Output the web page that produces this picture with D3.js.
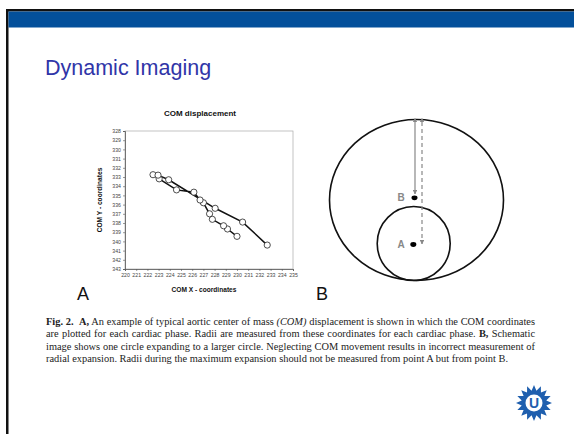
<!DOCTYPE html>
<html>
<head>
<meta charset="utf-8">
<script src="https://cdn.jsdelivr.net/npm/d3@7/dist/d3.min.js"></script>
<style>
  html, body { margin: 0; padding: 0; background: #fff; }
  svg { display: block; }
</style>
</head>
<body>
<div id="slide"></div>
<script>
// --- data ---
const xTickLabels = [220, 221, 222, 223, 224, 225, 226, 227, 228, 229, 230, 231, 232, 233, 234, 235];
const yTickLabels = [328, 329, 330, 331, 332, 333, 334, 335, 336, 337, 338, 339, 340, 341, 342, 343];

// COM coordinates, one per cardiac phase (in drawing order)
const comX = [230.0, 229.15, 228.8, 227.8, 227.55, 227.0, 226.7, 226.15, 224.6, 223.05, 222.5, 222.95, 223.9, 228.05, 230.5, 232.7];
const comY = [339.45, 338.65, 338.3, 337.6, 337.0, 335.8, 335.5, 334.65, 334.4, 333.2, 332.75, 332.8, 333.3, 336.4, 337.9, 340.4];

const captionLines = [
  [["Fig. 2.", "b"], ["  ", "r"], ["A,", "b"], [" An example of typical aortic center of mass ", "r"], ["(COM)", "i"], [" displacement is shown in which the COM coordinates", "r"]],
  [["are plotted for each cardiac phase. Radii are measured from these coordinates for each cardiac phase. ", "r"], ["B,", "b"], [" Schematic", "r"]],
  [["image shows one circle expanding to a larger circle. Neglecting COM movement results in incorrect measurement of", "r"]],
  [["radial expansion. Radii during the maximum expansion should not be measured from point A but from point B.", "r"]]
];

const W = 574, H = 434;
const svg = d3.select('#slide').append('svg')
  .attr('width', W)
  .attr('height', H);

// slide frame
svg.append('rect').attr('x', 0).attr('y', 0).attr('width', W).attr('height', H).attr('fill', '#fff');
svg.append('rect').attr('x', 6).attr('y', 9).attr('width', W - 6).attr('height', 2.5).attr('fill', '#111');
svg.append('rect').attr('x', 6).attr('y', 9).attr('width', 2.5).attr('height', H - 9).attr('fill', '#111');
svg.append('rect').attr('x', 8.5).attr('y', 11.5).attr('width', W - 8.5).attr('height', 16).attr('fill', '#03509b');

svg.append('text')
  .attr('x', 45).attr('y', 75)
  .attr('font-family', 'Liberation Sans, Arial, sans-serif')
  .attr('font-size', 21.5)
  .attr('fill', '#3035a8')
  .text('Dynamic Imaging');

// --- panel A : COM displacement scatter ---
const x = d3.scaleLinear().domain([220, 235]).range([125, 293]);
const y = d3.scaleLinear().domain([328, 343]).range([131, 269]);

const chart = svg.append('g').attr('class', 'chart');

chart.append('rect')
  .attr('x', x(220)).attr('y', y(328))
  .attr('width', x(235) - x(220)).attr('height', y(343) - y(328))
  .attr('fill', 'none').attr('stroke', '#aaa').attr('stroke-width', 0.7);

const xAxis = chart.append('g')
  .attr('transform', `translate(0,${y(343)})`)
  .call(d3.axisBottom(x).tickValues(xTickLabels).tickFormat(d3.format('d')).tickSize(2).tickPadding(2));
const yAxis = chart.append('g')
  .attr('transform', `translate(${x(220)},0)`)
  .call(d3.axisLeft(y).tickValues(yTickLabels).tickFormat(d3.format('d')).tickSize(2).tickPadding(2));

[xAxis, yAxis].forEach(a => {
  a.select('.domain').attr('stroke', '#555').attr('stroke-width', 0.8);
  a.selectAll('.tick line').attr('stroke', '#555').attr('stroke-width', 0.6);
  a.selectAll('.tick text')
    .attr('font-family', 'Liberation Sans, Arial, sans-serif')
    .attr('font-size', 5.2)
    .attr('fill', '#444');
});

const pts = comX.map((v, i) => ({ x: v, y: comY[i] }));

chart.append('path')
  .datum(pts)
  .attr('fill', 'none')
  .attr('stroke', '#111')
  .attr('stroke-width', 1.5)
  .attr('d', d3.line().x(d => x(d.x)).y(d => y(d.y)));

chart.selectAll('circle.pt')
  .data(pts)
  .enter()
  .append('circle')
  .attr('class', 'pt')
  .attr('cx', d => x(d.x))
  .attr('cy', d => y(d.y))
  .attr('r', 3.1)
  .attr('fill', '#fff')
  .attr('stroke', '#222')
  .attr('stroke-width', 0.8);

chart.append('text')
  .attr('x', 200).attr('y', 116)
  .attr('text-anchor', 'middle')
  .attr('font-family', 'Liberation Sans, Arial, sans-serif')
  .attr('font-weight', 'bold')
  .attr('font-size', 8)
  .attr('fill', '#111')
  .text('COM displacement');

chart.append('text')
  .attr('x', 204).attr('y', 292)
  .attr('text-anchor', 'middle')
  .attr('font-family', 'Liberation Sans, Arial, sans-serif')
  .attr('font-weight', 'bold')
  .attr('font-size', 6.6)
  .attr('fill', '#111')
  .text('COM X - coordinates');

chart.append('text')
  .attr('transform', 'translate(102,200) rotate(-90)')
  .attr('text-anchor', 'middle')
  .attr('font-family', 'Liberation Sans, Arial, sans-serif')
  .attr('font-weight', 'bold')
  .attr('font-size', 6.6)
  .attr('fill', '#111')
  .text('COM Y - coordinates');

// --- panel B : schematic ---
const schem = svg.append('g').attr('class', 'schematic');
const defs = svg.append('defs');
['start', 'end'].forEach(k => {
  defs.append('marker')
    .attr('id', 'arr-' + k)
    .attr('viewBox', '0 0 10 10')
    .attr('refX', k === 'end' ? 9 : 1).attr('refY', 5)
    .attr('markerWidth', 4).attr('markerHeight', 4)
    .attr('orient', 'auto-start-reverse')
    .append('path')
    .attr('d', 'M0,0 L10,5 L0,10 Z')
    .attr('fill', '#888');
});

schem.append('ellipse')
  .attr('cx', 416.5).attr('cy', 200).attr('rx', 87).attr('ry', 80.5)
  .attr('fill', 'none').attr('stroke', '#111').attr('stroke-width', 1.6);
schem.append('ellipse')
  .attr('cx', 413.7).attr('cy', 243.5).attr('rx', 36.5).attr('ry', 37)
  .attr('fill', 'none').attr('stroke', '#111').attr('stroke-width', 1.6);

schem.append('line')
  .attr('x1', 415).attr('y1', 122).attr('x2', 415).attr('y2', 194)
  .attr('stroke', '#888').attr('stroke-width', 1.2)
  .attr('marker-start', 'url(#arr-start)').attr('marker-end', 'url(#arr-end)');
schem.append('line')
  .attr('x1', 422).attr('y1', 122).attr('x2', 422).attr('y2', 244)
  .attr('stroke', '#888').attr('stroke-width', 1.2).attr('stroke-dasharray', '4,3')
  .attr('marker-start', 'url(#arr-start)').attr('marker-end', 'url(#arr-end)');

schem.append('ellipse').attr('cx', 414.5).attr('cy', 197.8).attr('rx', 3).attr('ry', 2.4).attr('fill', '#000');
schem.append('ellipse').attr('cx', 413.3).attr('cy', 244.5).attr('rx', 3).attr('ry', 2.4).attr('fill', '#000');

[['B', 401, 201], ['A', 401, 248]].forEach(([t, tx, ty]) => {
  schem.append('text')
    .attr('x', tx).attr('y', ty)
    .attr('text-anchor', 'middle')
    .attr('font-family', 'Liberation Sans, Arial, sans-serif')
    .attr('font-weight', 'bold')
    .attr('font-size', 10)
    .attr('fill', '#888')
    .text(t);
});

// panel letters
[['A', 83], ['B', 322]].forEach(([t, tx]) => {
  svg.append('text')
    .attr('x', tx).attr('y', 300)
    .attr('text-anchor', 'middle')
    .attr('font-family', 'Liberation Sans, Arial, sans-serif')
    .attr('font-size', 18)
    .attr('fill', '#111')
    .text(t);
});

// --- caption, justified ---
const capLeft = 46, capRight = 535;
captionLines.forEach((parts, i) => {
  const t = svg.append('text')
    .attr('x', capLeft).attr('y', 325 + i * 12.3)
    .attr('font-family', 'Liberation Serif, Times New Roman, serif')
    .attr('font-size', 10.4)
    .attr('fill', '#222')
    .attr('xml:space', 'preserve')
    .style('white-space', 'pre');
  parts.forEach(([s, style]) => {
    t.append('tspan')
      .attr('font-weight', style === 'b' ? 'bold' : null)
      .attr('font-style', style === 'i' ? 'italic' : null)
      .text(s);
  });
  if (i < captionLines.length - 1) {
    const len = t.node().getComputedTextLength();
    const spaces = parts.map(p => p[0]).join('').split(' ').length - 1;
    t.attr('word-spacing', (capRight - capLeft - len) / spaces);
  }
});

// --- logo ---
const logo = svg.append('g').attr('transform', 'translate(534,403)');
const nTeeth = 16;
const starPts = d3.range(nTeeth * 2).map(k => {
  const a = (k / (nTeeth * 2)) * 2 * Math.PI;
  return [a, k % 2 === 0 ? 18 : 12.5];
});
logo.append('path')
  .attr('d', d3.lineRadial().curve(d3.curveLinearClosed)(starPts))
  .attr('fill', '#1f5fae');
logo.append('circle').attr('r', 8.5).attr('fill', '#fff');
logo.append('text')
  .attr('y', 5)
  .attr('text-anchor', 'middle')
  .attr('font-family', 'Liberation Sans, Arial, sans-serif')
  .attr('font-weight', 'bold')
  .attr('font-size', 14)
  .attr('fill', '#1f5fae')
  .text('U');
</script>
</body>
</html>
